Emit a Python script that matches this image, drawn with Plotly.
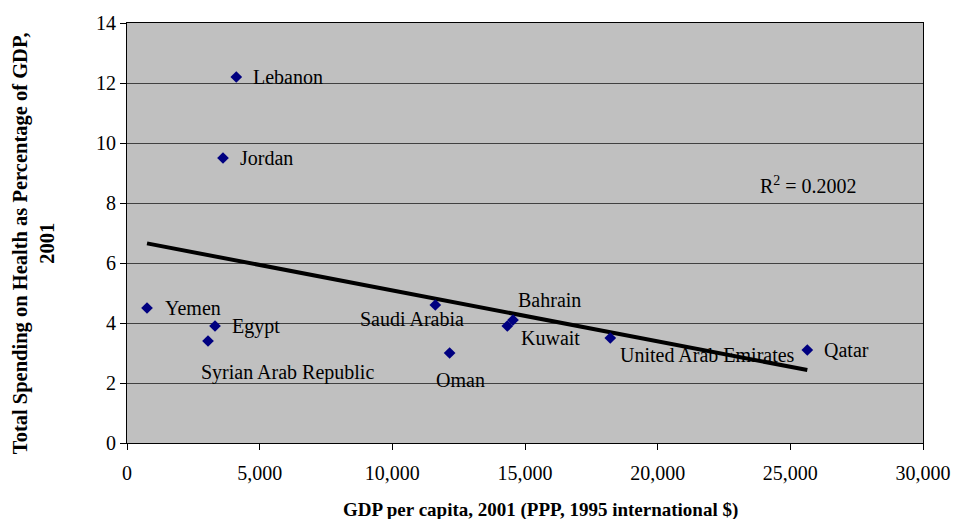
import numpy as np
import plotly.graph_objects as go

# GDP per capita (PPP, 1995 international $) and health spending (% of GDP), 2001
countries = ["Lebanon", "Jordan", "Yemen", "Egypt", "Syrian Arab Republic",
             "Saudi Arabia", "Bahrain", "Kuwait", "Oman",
             "United Arab Emirates", "Qatar"]
gdp_per_capita = [4119, 3618, 754, 3317, 3053, 11620, 14548, 14333, 12159, 18215, 25640]
health_spending = [12.2, 9.5, 4.5, 3.9, 3.4, 4.6, 4.1, 3.9, 3.0, 3.5, 3.1]

# label placement: (xanchor, xshift px, yshift px)
label_pos = {
    "Lebanon": ("left", 15, 0),
    "Jordan": ("left", 15, 0),
    "Yemen": ("left", 16, 0),
    "Egypt": ("left", 15, 0),
    "Syrian Arab Republic": ("left", -9, -31),
    "Saudi Arabia": ("right", 31, -14),
    "Bahrain": ("left", 3, 20),
    "Kuwait": ("left", 12, -12),
    "Oman": ("left", -16, -27),
    "United Arab Emirates": ("left", 8, -17),
    "Qatar": ("left", 15, 0),
}

x = np.array(gdp_per_capita, dtype=float)
y = np.array(health_spending, dtype=float)
slope, intercept = np.polyfit(x, y, 1)
pred = slope * x + intercept
r2 = 1 - np.sum((y - pred) ** 2) / np.sum((y - y.mean()) ** 2)
x_line = np.array([x.min(), x.max()])
y_line = slope * x_line + intercept

FONT = "Liberation Serif, Times New Roman, serif"

fig = go.Figure()
fig.add_trace(go.Scatter(
    x=x_line, y=y_line, mode="lines",
    line=dict(color="black", width=4), hoverinfo="skip", showlegend=False))
fig.add_trace(go.Scatter(
    x=gdp_per_capita, y=health_spending, mode="markers",
    marker=dict(symbol="diamond", size=9, color="#000080"),
    text=countries, showlegend=False))

for name, gx, hy in zip(countries, gdp_per_capita, health_spending):
    anchor, dx, dy = label_pos[name]
    fig.add_annotation(x=gx, y=hy, text=name, showarrow=False,
                       xanchor=anchor, yanchor="middle", xshift=dx, yshift=dy,
                       font=dict(family=FONT, size=20, color="black"))

fig.add_annotation(x=25700, y=8.6, text=f"R<sup>2</sup> = {r2:.4f}", showarrow=False,
                   xanchor="center", yanchor="middle",
                   font=dict(family=FONT, size=20, color="black"))

# axis titles
fig.add_annotation(x=-0.118, y=0.476, xref="paper", yref="paper",
                   text="<b>Total Spending on Health as Percentage of GDP,<br>2001</b>",
                   textangle=-90, showarrow=False, xanchor="center", yanchor="middle",
                   font=dict(family=FONT, size=20.5, color="black"))
fig.add_annotation(x=0.519, y=-0.16, xref="paper", yref="paper",
                   text="<b>GDP per capita, 2001 (PPP, 1995 international $)</b>",
                   showarrow=False, xanchor="center", yanchor="middle",
                   font=dict(family=FONT, size=19, color="black"))

fig.update_layout(
    width=953, height=519,
    margin=dict(l=127, r=30, t=23, b=76),
    paper_bgcolor="white", plot_bgcolor="#C0C0C0",
    font=dict(family=FONT, size=20, color="black"),
    showlegend=False,
)
fig.update_xaxes(
    range=[0, 30000], tickvals=list(range(0, 30001, 5000)),
    tickformat=",d", ticks="outside", ticklen=6, tickcolor="black",
    ticklabelstandoff=6, automargin=False,
    showgrid=False, zeroline=False, showline=True, linecolor="black",
    linewidth=1, mirror=True,
)
fig.update_yaxes(
    range=[0, 14], tickvals=list(range(0, 15, 2)),
    ticks="outside", ticklen=6, tickcolor="black", automargin=False,
    showgrid=True, gridcolor="#404040", gridwidth=1, zeroline=False,
    showline=True, linecolor="black", linewidth=1, mirror=True,
)

fig.write_html("out.html")
